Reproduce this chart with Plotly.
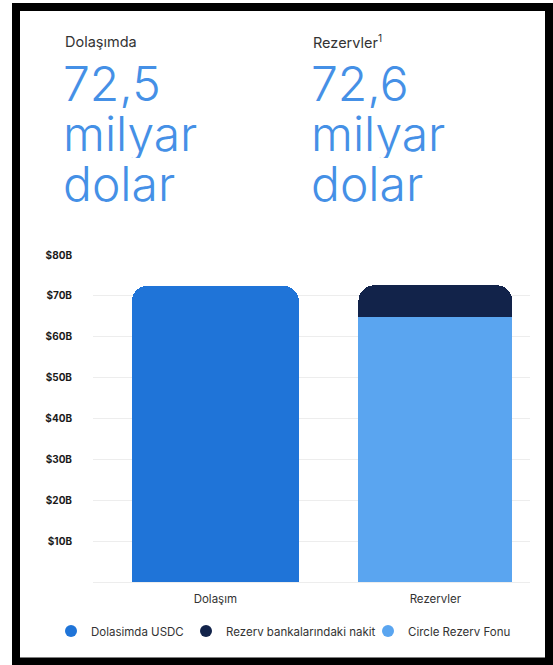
import plotly.graph_objects as go

# ---------------- data ----------------
categories = ["Dolaşım", "Rezervler"]
circulation_usdc = [72.5, None]
reserve_fund = [None, 64.8]
reserve_cash = [None, 7.8]
series_names = ["Dolasimda USDC", "Rezerv bankalarındaki nakit", "Circle Rezerv Fonu"]
series_colors = ["#1f74d8", "#12234a", "#5aa5f0"]
y_tickvals = [10, 20, 30, 40, 50, 60, 70, 80]
y_ticktext = ["$10B", "$20B", "$30B", "$40B", "$50B", "$60B", "$70B", "$80B"]
header_labels = ["Dolaşımda", "Rezervler<sup>1</sup>"]
header_values = ["72,5", "72,6"]
header_unit = ["milyar", "dolar"]

# ---------------- geometry ----------------
W, H = 553, 665
L, R, T, B = 93, 530, 255, 582
PW, PH = R - L, B - T


def px(x):
    return (x - L) / PW


def py(y):
    return (B - y) / PH


FONT = "Inter"
BLUE_TXT = "#4590e6"

fig = go.Figure()

fig.add_trace(go.Bar(x=categories, y=circulation_usdc, width=[0.76, 0.76],
                     marker=dict(color=series_colors[0], line=dict(width=0)),
                     showlegend=False, name=series_names[0]))
fig.add_trace(go.Bar(x=categories, y=reserve_fund, width=[0.70, 0.70],
                     marker=dict(color=series_colors[2], line=dict(width=0)),
                     showlegend=False, name=series_names[2]))
fig.add_trace(go.Bar(x=categories, y=reserve_cash, width=[0.70, 0.70],
                     marker=dict(color=series_colors[1], line=dict(width=0)),
                     showlegend=False, name=series_names[1]))

# legend entries (circle symbols), each in its own legend box
legend_names = ["legend", "legend2", "legend3"]
for i, (nm, col) in enumerate(zip(series_names, series_colors)):
    fig.add_trace(go.Scatter(x=[None], y=[None], mode="markers", name=nm,
                             marker=dict(symbol="circle", size=12, color=col),
                             legend=legend_names[i], showlegend=True))

legend_marker_x = [70, 205, 387]
legend_common = dict(orientation="h", yanchor="middle", xanchor="left",
                     bgcolor="rgba(0,0,0,0)", borderwidth=0,
                     font=dict(family=FONT, size=11.5, color="#333333"),
                     itemclick=False, itemdoubleclick=False)
leg = {}
for i, name in enumerate(legend_names):
    leg[name] = dict(x=px(legend_marker_x[i] - 19), y=py(631), **legend_common)

annotations = []
col_x = [63, 311]
for i in range(2):
    annotations.append(dict(text=header_labels[i], x=px(col_x[i]), y=py(42),
                            xref="paper", yref="paper", xanchor="left", yanchor="middle",
                            showarrow=False,
                            font=dict(family=FONT, size=14.5, color="#333333")))
    lines = [header_values[i]] + header_unit
    for j, txt in enumerate(lines):
        annotations.append(dict(text=txt, x=px(col_x[i] - 2), y=py(83 + 50 * j),
                                xref="paper", yref="paper", xanchor="left", yanchor="middle",
                                showarrow=False, height=50, valign="middle",
                                font=dict(family=FONT, size=48, color=BLUE_TXT, weight=300)))

shapes = [dict(type="rect", xref="paper", yref="paper",
               x0=px(16), x1=px(549), y0=py(661.5), y1=py(7),
               line=dict(color="black", width=8), fillcolor="rgba(0,0,0,0)", layer="above")]

fig.update_layout(
    width=W, height=H,
    margin=dict(l=L, r=W - R, t=T, b=H - B, autoexpand=False),
    paper_bgcolor="white", plot_bgcolor="white",
    barmode="stack", barcornerradius=16,
    showlegend=True,
    annotations=annotations, shapes=shapes,
    xaxis=dict(range=[-0.556, 1.430], showgrid=False, zeroline=False, showline=False,
               ticks="", ticklabelstandoff=8,
               tickfont=dict(family=FONT, size=11.5, color="#333333")),
    yaxis=dict(range=[0, 80], tickvals=y_tickvals, ticktext=y_ticktext,
               showgrid=True, gridcolor="#ededed", gridwidth=1,
               zeroline=True, zerolinecolor="#ededed", zerolinewidth=1,
               showline=False, ticks="", ticklabelstandoff=20,
               tickfont=dict(family=FONT, size=10, color="#1a1a1a", weight=700)),
    **leg,
)

fig.write_html("out.html")
